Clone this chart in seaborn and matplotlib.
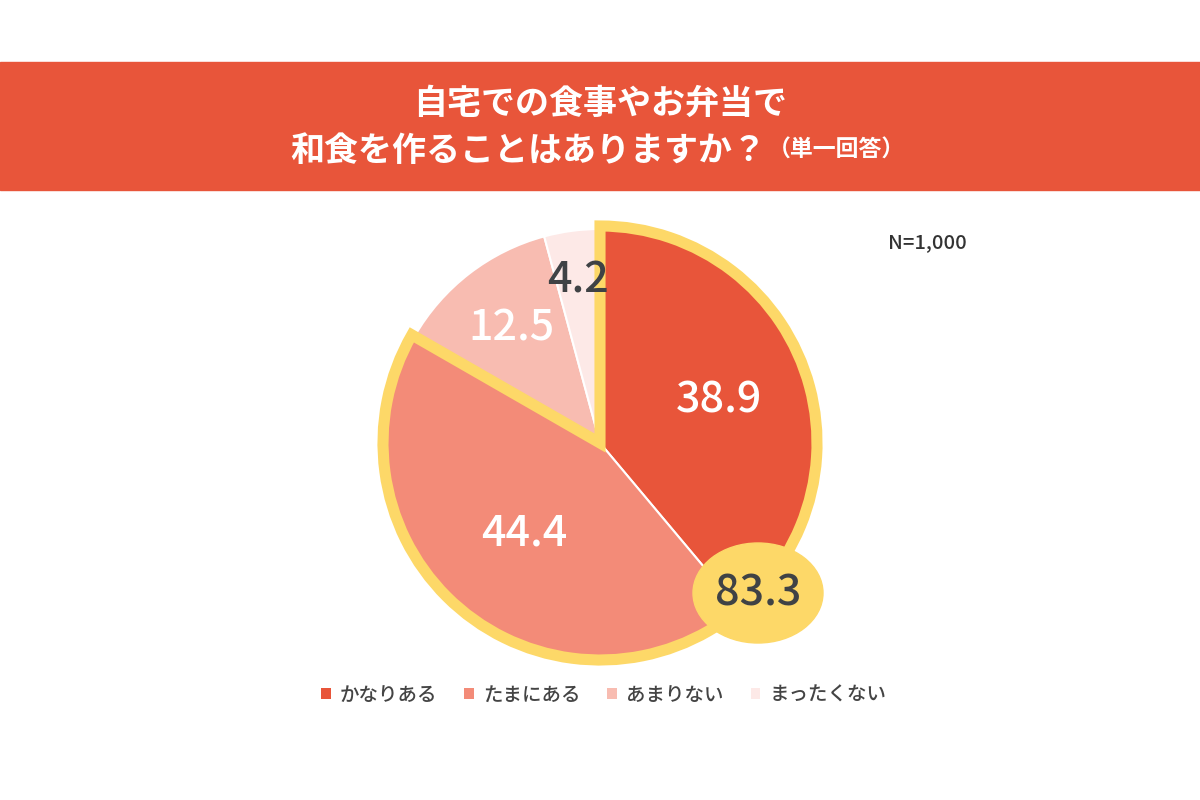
import numpy as np
import matplotlib
matplotlib.use("Agg")
import matplotlib.pyplot as plt
from matplotlib.patches import Wedge, Ellipse, Rectangle, Patch
import seaborn as sns

# ---- data ----
categories = ["かなりある", "たまにある", "あまりない", "まったくない"]
values = [38.9, 44.4, 12.5, 4.2]
highlight_count = 2  # first two categories grouped
title_line1 = "自宅での食事やお弁当で"
title_line2 = "和食を作ることはありますか？"
title_note = "（単一回答）"
n_label = "N=1,000"

colors = ["#E8553A", "#F38B78", "#F8BCB1", "#FDE9E7"]
label_colors = ["white", "white", "white", "#3F4245"]
label_radius = [0.59, 0.55, 0.68, 0.77]
yellow = "#FDD868"
dark = "#3F4245"

sns.set_theme(style="white")
plt.rcParams['font.family'] = ['Noto Sans CJK JP', 'DejaVu Sans']

fig = plt.figure(figsize=(12, 8), dpi=100)
ax = fig.add_axes([0, 0, 1, 1])

cx, cy, R = 600, 800 - 443, 214
palette = sns.color_palette(colors)
wedges, _ = ax.pie(values, colors=palette, startangle=90, counterclock=False,
                   center=(cx, cy), radius=R,
                   wedgeprops=dict(edgecolor="white", linewidth=1.5))
ax.set_xlim(0, 1200)
ax.set_ylim(0, 800)
ax.set_aspect("equal")
ax.axis("off")

# title band
ax.add_patch(Rectangle((0, 800 - 190), 1200, 128, color="#E8553A", zorder=0))
ax.text(600, 800 - 103, title_line1, ha="center", va="center", color="white",
        fontsize=24.5, fontweight="bold")
ax.text(766, 800 - 150, title_line2, ha="right", va="center", color="white",
        fontsize=24.5, fontweight="bold")
ax.text(768, 800 - 150, title_note, ha="left", va="center", color="white",
        fontsize=16.5, fontweight="bold")

# yellow outline around grouped slices
total = sum(values)
group_share = sum(values[:highlight_count]) / total
theta2 = 90
theta1 = 90 - 360 * group_share
ax.add_patch(Wedge((cx, cy), R + 3, theta1, theta2, fill=False,
                   edgecolor=yellow, linewidth=8, joinstyle="miter", zorder=5))

# value labels
for w, v, c, rf in zip(wedges, values, label_colors, label_radius):
    mid = np.deg2rad((w.theta1 + w.theta2) / 2)
    x = cx + rf * R * np.cos(mid)
    y = cy + rf * R * np.sin(mid)
    ax.text(x, y, f"{v:.1f}", ha="center", va="center", color=c,
            fontsize=31, fontweight="medium", zorder=6)

# grouped total bubble
group_total = round(sum(values[:highlight_count]), 1)
ex, ey = 758, 800 - 593
ax.add_patch(Ellipse((ex, ey), 130, 100, color=yellow, zorder=7))
ax.text(ex, ey, f"{group_total:.1f}", ha="center", va="center", color=dark,
        fontsize=31, fontweight="medium", zorder=8)

# N label
ax.text(927, 800 - 243, n_label, ha="center", va="center", color="#333333",
        fontsize=14.5, fontweight="medium")

# legend
handles = [Patch(facecolor=col, edgecolor="none") for col in colors]
leg = fig.legend(handles, categories, loc="center", ncol=4, frameon=False,
                 bbox_to_anchor=(0.503, 1 - 695 / 800),
                 prop=dict(size=14, weight="medium"),
                 handlelength=0.5, handleheight=0.5, handletextpad=0.45,
                 columnspacing=1.4)
for t in leg.get_texts():
    t.set_color("#444444")

fig.savefig("out.png", dpi=100, facecolor="white")
